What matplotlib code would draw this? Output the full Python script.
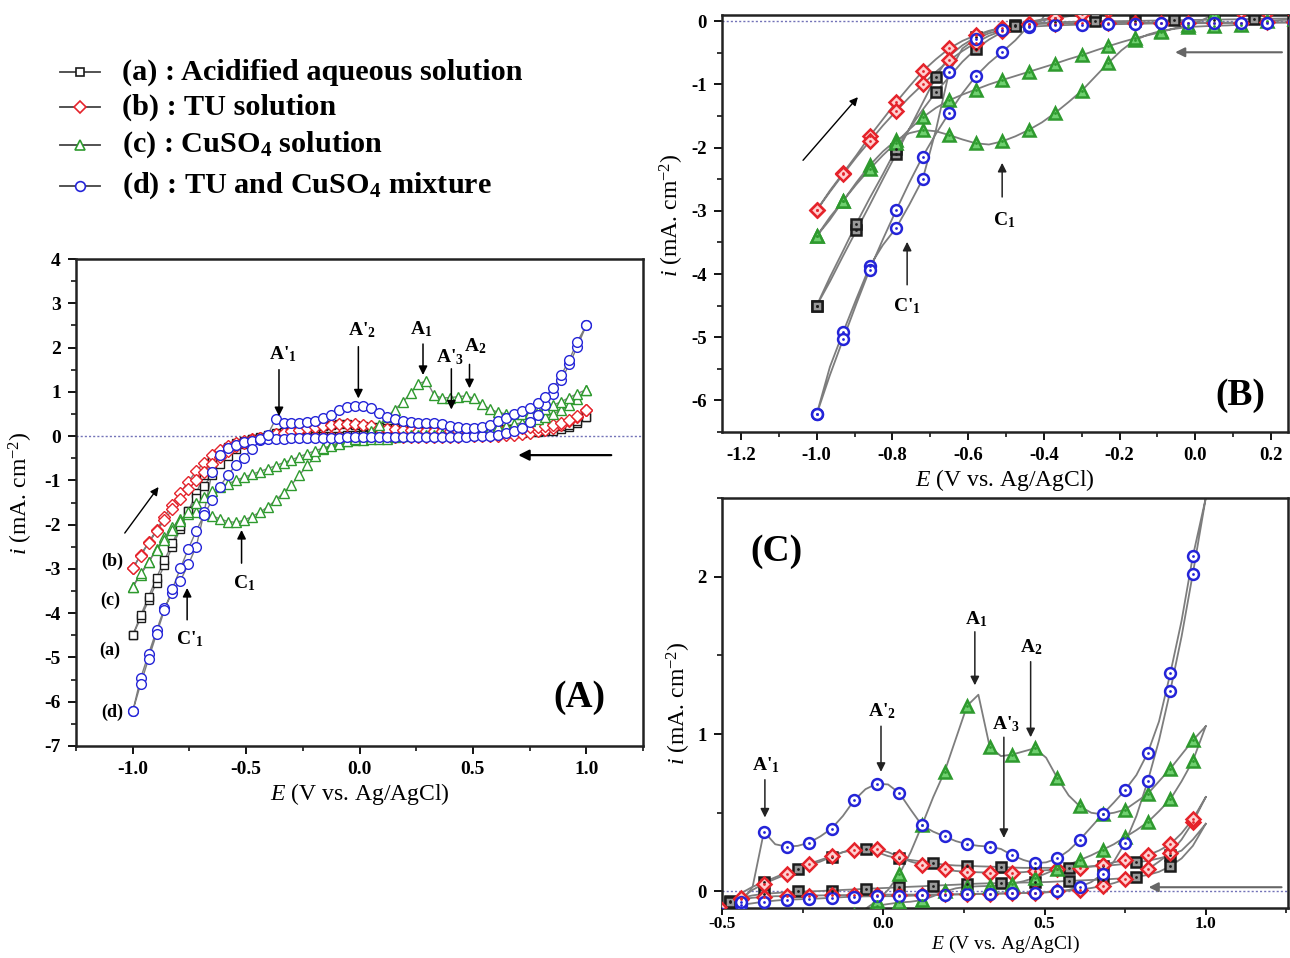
import numpy as np
import matplotlib
matplotlib.use("Agg")
import matplotlib.pyplot as plt
from matplotlib.lines import Line2D
from matplotlib.ticker import MultipleLocator

plt.rcParams.update({
    "font.family": "Liberation Serif",
    "mathtext.fontset": "custom",
    "mathtext.rm": "Liberation Serif",
    "mathtext.it": "Liberation Serif:italic",
    "mathtext.bf": "Liberation Serif:bold",
    "axes.unicode_minus": False,
})

# ---------------------------------------------------------------------------
# Potential grid (V vs. Ag/AgCl), shared by both sweeps of every voltammogram
# ---------------------------------------------------------------------------
E_V = [-1.000, -0.965, -0.930, -0.895, -0.860, -0.825, -0.790, -0.755, -0.720, -0.685,
       -0.650, -0.615, -0.580, -0.545, -0.510, -0.475, -0.440, -0.405, -0.370, -0.335,
       -0.300, -0.265, -0.230, -0.195, -0.160, -0.125, -0.090, -0.055, -0.020, 0.015,
       0.050, 0.085, 0.120, 0.155, 0.190, 0.225, 0.260, 0.295, 0.330, 0.365,
       0.400, 0.435, 0.470, 0.505, 0.540, 0.575, 0.610, 0.645, 0.680, 0.715,
       0.750, 0.785, 0.820, 0.855, 0.890, 0.925, 0.960, 1.000]

# Current density (mA cm^-2); "cath" = sweep from +1.0 V down to -1.0 V,
# "anod" = return sweep from -1.0 V up to +1.0 V (both listed in ascending E)
acid_cath = [-4.50, -4.12, -3.71, -3.31, -2.91, -2.50, -2.10, -1.70, -1.29, -0.88,
             -0.55, -0.38, -0.25, -0.16, -0.10, -0.06, -0.04, -0.025, -0.015, -0.010,
             -0.005, 0.000, 0.000, 0.003, 0.006, 0.010, 0.013, 0.017, 0.020, 0.023,
             0.027, 0.030, 0.033, 0.037, 0.040, 0.043, 0.047, 0.050, 0.052, 0.053,
             0.055, 0.057, 0.058, 0.060, 0.063, 0.067, 0.070, 0.073, 0.076, 0.080,
             0.085, 0.093, 0.105, 0.125, 0.160, 0.210, 0.290, 0.430]
acid_anod = [-4.50, -4.05, -3.63, -3.20, -2.80, -2.42, -2.02, -1.70, -1.40, -1.12,
             -0.88, -0.64, -0.44, -0.29, -0.17, -0.07, -0.01, 0.03, 0.06, 0.09,
             0.12, 0.14, 0.165, 0.19, 0.22, 0.25, 0.27, 0.27, 0.25, 0.225,
             0.21, 0.20, 0.19, 0.18, 0.17, 0.165, 0.163, 0.160, 0.158, 0.155,
             0.152, 0.150, 0.150, 0.150, 0.150, 0.152, 0.155, 0.158, 0.162, 0.168,
             0.175, 0.185, 0.195, 0.210, 0.230, 0.260, 0.330, 0.430]

tu_cath = [-2.99, -2.68, -2.40, -2.12, -1.82, -1.55, -1.28, -1.03, -0.79, -0.60,
           -0.43, -0.31, -0.22, -0.15, -0.10, -0.07, -0.05, -0.04, -0.035, -0.03,
           -0.03, -0.028, -0.026, -0.025, -0.024, -0.023, -0.022, -0.022, -0.021, -0.020,
           -0.020, -0.020, -0.020, -0.019, -0.018, -0.018, -0.017, -0.016, -0.015, -0.014,
           -0.012, -0.010, -0.008, -0.004, 0.000, 0.005, 0.012, 0.022, 0.035, 0.053,
           0.077, 0.105, 0.140, 0.190, 0.245, 0.330, 0.440, 0.600]
tu_anod = [-2.99, -2.70, -2.42, -2.15, -1.90, -1.65, -1.42, -1.20, -1.00, -0.80,
           -0.62, -0.47, -0.34, -0.23, -0.15, -0.09, -0.04, 0.01, 0.05, 0.08,
           0.11, 0.145, 0.175, 0.20, 0.225, 0.25, 0.265, 0.27, 0.27, 0.25,
           0.22, 0.19, 0.17, 0.155, 0.14, 0.13, 0.125, 0.122, 0.12, 0.12,
           0.12, 0.123, 0.13, 0.135, 0.14, 0.145, 0.15, 0.16, 0.17, 0.185,
           0.20, 0.21, 0.23, 0.26, 0.30, 0.37, 0.46, 0.60]

cu_cath = [-3.40, -3.14, -2.84, -2.55, -2.28, -2.06, -1.88, -1.77, -1.72, -1.74,
           -1.80, -1.87, -1.93, -1.95, -1.90, -1.82, -1.72, -1.60, -1.45, -1.28,
           -1.10, -0.88, -0.66, -0.46, -0.30, -0.21, -0.15, -0.12, -0.09, -0.08,
           -0.07, -0.065, -0.055, -0.03, 0.00, 0.02, 0.03, 0.033, 0.035, 0.04,
           0.05, 0.065, 0.087, 0.115, 0.145, 0.17, 0.20, 0.23, 0.265, 0.30,
           0.345, 0.39, 0.44, 0.51, 0.585, 0.70, 0.83, 1.05]
cu_anod = [-3.40, -3.10, -2.84, -2.58, -2.34, -2.12, -1.92, -1.71, -1.52, -1.37,
           -1.25, -1.16, -1.08, -1.00, -0.93, -0.865, -0.80, -0.735, -0.67, -0.60,
           -0.537, -0.465, -0.395, -0.33, -0.27, -0.22, -0.17, -0.11, -0.06, 0.01,
           0.11, 0.25, 0.42, 0.60, 0.76, 0.97, 1.18, 1.25, 0.92, 0.86,
           0.87, 0.89, 0.91, 0.85, 0.72, 0.61, 0.54, 0.50, 0.49, 0.50,
           0.52, 0.57, 0.62, 0.70, 0.78, 0.87, 0.96, 1.05]

mix_cath = [-6.22, -5.47, -4.92, -4.39, -3.88, -3.54, -3.27, -2.90, -2.50, -1.72,
            -0.80, -0.43, -0.28, -0.19, -0.135, -0.10, -0.085, -0.075, -0.065, -0.058,
            -0.052, -0.050, -0.047, -0.044, -0.040, -0.036, -0.033, -0.031, -0.030, -0.030,
            -0.030, -0.027, -0.024, -0.022, -0.021, -0.019, -0.017, -0.015, -0.013, -0.012,
            -0.011, -0.010, -0.010, -0.006, 0.000, 0.010, 0.030, 0.060, 0.110, 0.190,
            0.310, 0.480, 0.700, 0.960, 1.275, 1.620, 2.020, 2.500]
mix_anod = [-6.22, -5.60, -5.03, -4.47, -3.93, -3.45, -2.99, -2.55, -2.14, -1.78,
            -1.45, -1.14, -0.87, -0.66, -0.485, -0.30, -0.07, 0.03, 0.38, 0.30,
            0.285, 0.29, 0.31, 0.35, 0.40, 0.48, 0.58, 0.65, 0.685, 0.68,
            0.625, 0.52, 0.42, 0.38, 0.35, 0.32, 0.30, 0.29, 0.285, 0.27,
            0.23, 0.20, 0.18, 0.185, 0.21, 0.26, 0.33, 0.41, 0.49, 0.565,
            0.645, 0.74, 0.88, 1.08, 1.385, 1.72, 2.13, 2.50]

legend_labels = ["(a) : Acidified aqueous solution",
                 "(b) : TU solution",
                 r"(c) : CuSO$_\mathbf{4}$ solution",
                 r"(d) : TU and CuSO$_\mathbf{4}$ mixture"]
curve_tags = ["(a)", "(b)", "(c)", "(d)"]

ticks_A_x = ["-1.0", "-0.5", "0.0", "0.5", "1.0"]
ticks_A_y = ["4", "3", "2", "1", "0", "-1", "-2", "-3", "-4", "-5", "-6", "-7"]
ticks_B_x = ["-1.2", "-1.0", "-0.8", "-0.6", "-0.4", "-0.2", "0.0", "0.2"]
ticks_B_y = ["0", "-1", "-2", "-3", "-4", "-5", "-6"]
ticks_C_x = ["-0.5", "0.0", "0.5", "1.0"]
ticks_C_y = ["0", "1", "2"]

# ---------------------------------------------------------------------------
series = [
    dict(cath=acid_cath, anod=acid_anod, color="#1b1b1b", fill="#9a9a9a", marker="s", ms=6.3, every=3),
    dict(cath=tu_cath, anod=tu_anod, color="#e5232b", fill="#ffd0d0", marker="D", ms=6.0, every=2),
    dict(cath=cu_cath, anod=cu_anod, color="#2e9a2e", fill="#6fd06f", marker="^", ms=7.5, every=2),
    dict(cath=mix_cath, anod=mix_anod, color="#2424d8", fill="#ffffff", marker="o", ms=7.0, every=2),
]

E_arr = np.array(E_V)
BOLD = dict(fontweight="bold")
LINE_GREY = "#7d7d7d"
ZERO_COL = "#7373b8"


def draw_cv(ax, s, detailed):
    cath = np.array(s["cath"])
    anod = np.array(s["anod"])
    x_loop = np.concatenate([E_arr[::-1], E_arr[1:]])
    y_loop = np.concatenate([cath[::-1], anod[1:]])
    ax.plot(x_loop, y_loop, color=LINE_GREY, lw=1.3 if detailed else 1.0, zorder=2)
    if detailed:
        idx = np.arange(0, len(E_arr) - 1, s["every"])
        for branch in (cath, anod):
            ax.plot(E_arr[idx], branch[idx], ls="none", marker=s["marker"], ms=s["ms"] + 0.8,
                    mfc=s["fill"], mec=s["color"], mew=1.8, zorder=3)
            ax.plot(E_arr[idx], branch[idx], ls="none", marker="o", ms=2.0,
                    mfc=s["color"], mec=s["color"], mew=0, zorder=4)
    else:
        for branch in (cath, anod):
            ax.plot(E_arr, branch, ls="none", marker=s["marker"], ms=s["ms"],
                    mfc="white", mec=s["color"], mew=1.0, zorder=3)


def style_axes(ax, xmin, ymin, xt, xl, yt, yl, size, xsize=None, xpad=5, xlen=6, xlabel_size=17):
    ax.set_xticks(xt)
    ax.set_xticklabels(xl, fontsize=xsize or size, fontweight="bold")
    ax.set_yticks(yt)
    ax.set_yticklabels(yl, fontsize=size, fontweight="bold")
    ax.xaxis.set_minor_locator(MultipleLocator(xmin))
    ax.yaxis.set_minor_locator(MultipleLocator(ymin))
    ax.tick_params(which="major", direction="out", length=6, width=1.3, pad=5)
    ax.tick_params(axis="x", which="major", pad=xpad, length=xlen)
    ax.tick_params(which="minor", direction="out", length=3.5, width=1.1)
    for sp in ax.spines.values():
        sp.set_linewidth(1.8)
        sp.set_color("#222222")
    ax.set_xlabel(r"$\it{E}$ (V vs. Ag/AgCl)", fontsize=xlabel_size, labelpad=2)
    ax.set_ylabel(r"$\it{i}$ (mA. cm$^{-2}$)", fontsize=17, labelpad=2)


def arrow(ax, x, y0, y1, lw=1.1, color="black", ms=13):
    ax.annotate("", xy=(x, y1), xytext=(x, y0),
                arrowprops=dict(arrowstyle="-|>", color=color, lw=lw,
                                shrinkA=0, shrinkB=0, mutation_scale=ms))


def arrow2(ax, p0, p1, lw=1.1, color="black", ms=13):
    ax.annotate("", xy=p1, xytext=p0,
                arrowprops=dict(arrowstyle="-|>", color=color, lw=lw,
                                shrinkA=0, shrinkB=0, mutation_scale=ms))


fig = plt.figure(figsize=(12.9, 9.58), dpi=100)

# ------------------------------- panel A -----------------------------------
axA = fig.add_axes([76 / 1290, 1 - 746 / 958, 567 / 1290, 487 / 958])
axA.axhline(0, color=ZERO_COL, lw=1.0, ls=(0, (1.5, 1.5)), zorder=1)
for s in series:
    draw_cv(axA, s, detailed=False)
axA.set_xlim(-1.25, 1.25)
axA.set_ylim(-7, 4)
style_axes(axA, 0.25, 0.5, [-1.0, -0.5, 0.0, 0.5, 1.0], ticks_A_x,
           [4, 3, 2, 1, 0, -1, -2, -3, -4, -5, -6, -7], ticks_A_y, 14)
axA.yaxis.set_label_coords(-0.072, 0.52)

ann = 14
axA.text(-0.338, 1.62, r"A'$_\mathbf{1}$", ha="center", va="bottom", fontsize=ann, **BOLD)
arrow(axA, -0.355, 1.50, 0.45)
axA.text(0.013, 2.17, r"A'$_\mathbf{2}$", ha="center", va="bottom", fontsize=ann, **BOLD)
arrow(axA, -0.005, 2.02, 0.85)
axA.text(0.27, 2.20, r"A$_\mathbf{1}$", ha="center", va="bottom", fontsize=ann, **BOLD)
arrow(axA, 0.28, 2.08, 1.38)
axA.text(0.40, 1.55, r"A'$_\mathbf{3}$", ha="center", va="bottom", fontsize=ann, **BOLD)
arrow(axA, 0.405, 1.52, 0.60)
axA.text(0.51, 1.82, r"A$_\mathbf{2}$", ha="center", va="bottom", fontsize=ann, **BOLD)
arrow(axA, 0.485, 1.62, 1.08)
axA.text(-0.51, -3.55, r"C$_\mathbf{1}$", ha="center", va="bottom", fontsize=ann, **BOLD)
arrow(axA, -0.52, -2.87, -2.12)
axA.text(-0.75, -4.80, r"C'$_\mathbf{1}$", ha="center", va="bottom", fontsize=ann, **BOLD)
arrow(axA, -0.76, -4.15, -3.43)
for tag, (tx, ty) in zip(curve_tags, [(-1.10, -4.85), (-1.09, -2.82), (-1.10, -3.72), (-1.09, -6.25)]):
    axA.text(tx, ty, tag, ha="center", va="center", fontsize=13, **BOLD)
axA.text(0.97, -5.9, "(A)", ha="center", va="center", fontsize=27, **BOLD)
arrow2(axA, (1.11, -0.43), (0.70, -0.43), lw=1.6, ms=16)
arrow2(axA, (-1.035, -2.19), (-0.886, -1.15), lw=1.0, ms=12)

# ------------------------------- panel B -----------------------------------
axB = fig.add_axes([722 / 1290, 1 - 432 / 958, 566 / 1290, 417 / 958])
axB.axhline(0, color=ZERO_COL, lw=1.0, ls=(0, (1.5, 1.5)), zorder=1)
for s in series:
    draw_cv(axB, s, detailed=True)
axB.set_xlim(-1.25, 0.245)
axB.set_ylim(-6.5, 0.1)
style_axes(axB, 0.1, 0.5, [-1.2, -1.0, -0.8, -0.6, -0.4, -0.2, 0.0, 0.2], ticks_B_x,
           [0, -1, -2, -3, -4, -5, -6], ticks_B_y, 13.5)
axB.yaxis.set_label_coords(-0.064, 0.52)
axB.text(-0.505, -3.30, r"C$_\mathbf{1}$", ha="center", va="bottom", fontsize=ann, **BOLD)
arrow(axB, -0.51, -2.78, -2.24, color="#222222")
axB.text(-0.761, -4.66, r"C'$_\mathbf{1}$", ha="center", va="bottom", fontsize=ann, **BOLD)
arrow(axB, -0.761, -4.17, -3.49, color="#222222")
axB.text(0.118, -5.92, "(B)", ha="center", va="center", fontsize=27, **BOLD)
arrow2(axB, (0.229, -0.49), (-0.053, -0.49), lw=1.5, color="#666666", ms=14)
arrow2(axB, (-1.036, -2.20), (-0.891, -1.20), lw=1.0, ms=12)

# ------------------------------- panel C -----------------------------------
axC = fig.add_axes([722 / 1290, 1 - 908 / 958, 566 / 1290, 410 / 958])
axC.axhline(0, color=ZERO_COL, lw=1.0, ls=(0, (1.5, 1.5)), zorder=1)
for s in series:
    draw_cv(axC, s, detailed=True)
axC.set_xlim(-0.5, 1.255)
axC.set_ylim(-0.105, 2.5)
style_axes(axC, 0.25, 0.5, [-0.5, 0.0, 0.5, 1.0], ticks_C_x,
           [0, 1, 2], ticks_C_y, 13.5, xsize=12.5, xpad=1, xlen=5, xlabel_size=14)
axC.yaxis.set_label_coords(-0.052, 0.5)
axC.xaxis.set_label_coords(0.5, -0.063)
axC.text(-0.363, 0.74, r"A'$_\mathbf{1}$", ha="center", va="bottom", fontsize=ann, **BOLD)
arrow(axC, -0.367, 0.71, 0.47, color="#222222")
axC.text(-0.004, 1.08, r"A'$_\mathbf{2}$", ha="center", va="bottom", fontsize=ann, **BOLD)
arrow(axC, -0.007, 1.05, 0.76, color="#222222")
axC.text(0.287, 1.67, r"A$_\mathbf{1}$", ha="center", va="bottom", fontsize=ann, **BOLD)
arrow(axC, 0.284, 1.65, 1.31, color="#222222")
axC.text(0.38, 1.00, r"A'$_\mathbf{3}$", ha="center", va="bottom", fontsize=ann, **BOLD)
arrow(axC, 0.374, 0.98, 0.34, color="#222222")
axC.text(0.46, 1.49, r"A$_\mathbf{2}$", ha="center", va="bottom", fontsize=ann, **BOLD)
arrow(axC, 0.457, 1.46, 0.98, color="#222222")
axC.text(-0.33, 2.16, "(C)", ha="center", va="center", fontsize=27, **BOLD)
arrow2(axC, (1.235, 0.027), (0.823, 0.027), lw=1.5, color="#666666", ms=14)

# ------------------------------- legend ------------------------------------
leg_y = [72, 107, 145, 186]
for s, lab, y in zip(series, legend_labels, leg_y):
    yf = 1 - y / 958
    fig.add_artist(Line2D([60 / 1290, 80 / 1290, 100 / 1290], [yf, yf, yf],
                          transform=fig.transFigure, color="#444444", lw=1.3,
                          marker=s["marker"], markevery=[1], ms=s["ms"],
                          mfc="white", mec=s["color"], mew=1.2))
    fig.text(122 / 1290, yf, lab, ha="left", va="center", fontsize=21.8, **BOLD)

fig.savefig("out.png", dpi=100)
